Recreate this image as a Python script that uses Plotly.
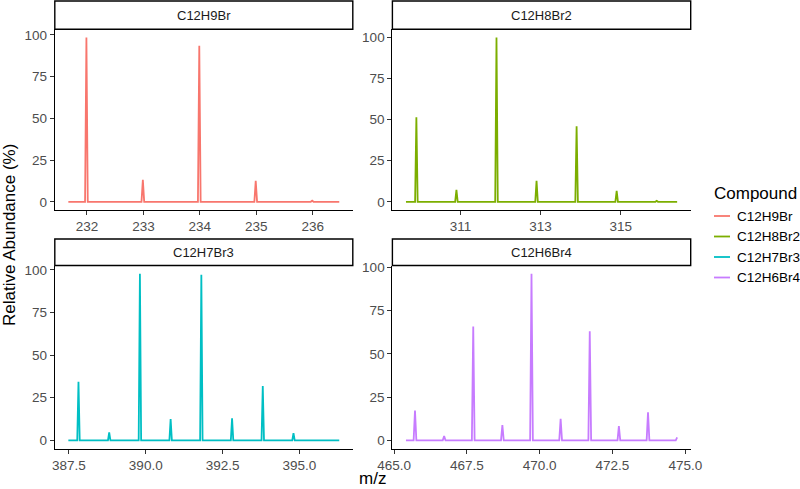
import plotly.graph_objects as go

# ---------------- data ----------------
compounds = ["C12H9Br", "C12H8Br2", "C12H7Br3", "C12H6Br4"]
colors = ["#F8766D", "#7CAE00", "#00BFC4", "#C77CFF"]

mz_start = [231.67, 309.64, 387.48, 465.41]
mz_end = [236.47, 316.41, 396.30, 474.72]

c12h9br_mz = [231.99, 232.99, 233.99, 234.99, 235.99]
c12h9br_ab = [98.4, 13.1, 93.4, 12.5, 0.7]

c12h8br2_mz = [309.90, 310.90, 311.90, 312.90, 313.90, 314.90, 315.90]
c12h8br2_ab = [51.4, 7.2, 100.0, 12.7, 46.0, 6.6, 0.6]

c12h7br3_mz = [387.81, 388.81, 389.81, 390.81, 391.81, 392.81, 393.81, 394.81, 395.81]
c12h7br3_ab = [34.4, 4.7, 97.7, 12.5, 97.1, 12.9, 31.9, 4.3, 0.4]

c12h6br4_mz = [465.72, 466.72, 467.72, 468.72, 469.72, 470.72, 471.72, 472.72, 473.72, 474.72]
c12h6br4_ab = [17.2, 2.5, 65.8, 8.9, 96.3, 12.5, 63.1, 8.3, 16.2, 1.7]

# peak half-width at the base (instrument resolution), per compound
peak_halfwidth = [0.024, 0.032, 0.040, 0.047]

x_tickvals = [
    [232, 233, 234, 235, 236],
    [311, 313, 315],
    [387.5, 390.0, 392.5, 395.0],
    [465.0, 467.5, 470.0, 472.5, 475.0],
]
x_ticktext = [
    ["232", "233", "234", "235", "236"],
    ["311", "313", "315"],
    ["387.5", "390.0", "392.5", "395.0"],
    ["465.0", "467.5", "470.0", "472.5", "475.0"],
]
y_tickvals = [0, 25, 50, 75, 100]

peak_mz = [c12h9br_mz, c12h8br2_mz, c12h7br3_mz, c12h6br4_mz]
peak_ab = [c12h9br_ab, c12h8br2_ab, c12h7br3_ab, c12h6br4_ab]


def profile(start, end, mzs, abund, hw):
    xs, ys = [start], [0.0]
    for m, a in zip(mzs, abund):
        for x, y in ((m - hw, 0.0), (m, a), (m + hw, 0.0)):
            if start < x <= end:
                xs.append(x)
                ys.append(y)
    if xs[-1] < end:
        xs.append(end)
        ys.append(0.0)
    return xs, ys


# ---------------- layout geometry (pixels -> paper) ----------------
W, H = 800, 489
col_x = [(54.8, 352.8), (392.4, 690.7)]
row_y = [(29.3, 210.0), (265.5, 448.7)]       # plot area top/bottom in px
strip_y = [(1.0, 29.3), (239.0, 265.5)]       # strip top/bottom in px


def px_x(x):
    return x / W


def px_y(y):
    return (H - y) / H


FONT = "Liberation Sans, Arial, Helvetica, sans-serif"
fig = go.Figure()
TICK_FONT = dict(family=FONT, size=13.5, color="#4D4D4D")
SMALL = 13.5
STRIP = 13
TITLE = 17

shapes = []
annotations = []

for i, name in enumerate(compounds):
    r, c = divmod(i, 2)
    xs, ys = profile(mz_start[i], mz_end[i], peak_mz[i], peak_ab[i], peak_halfwidth[i])
    ax = "" if i == 0 else str(i + 1)
    fig.add_trace(go.Scatter(
        x=xs, y=ys, mode="lines", name=name,
        line=dict(color=colors[i], width=1.8),
        xaxis="x" + ax, yaxis="y" + ax, showlegend=False,
        hoverinfo="x+y",
    ))
    span = mz_end[i] - mz_start[i]
    xr = [mz_start[i] - 0.05 * span, mz_end[i] + 0.05 * span]
    ymax = max(peak_ab[i])
    yr = [-0.05 * ymax, 1.05 * ymax]
    x0, x1 = col_x[c]
    yt, yb = row_y[r]
    fig.update_layout(**{
        "xaxis" + ax: dict(
            domain=[px_x(x0), px_x(x1)], anchor="y" + ax, range=xr,
            tickvals=x_tickvals[i], ticktext=x_ticktext[i],
            showline=True, linecolor="black", linewidth=1.1,
            ticks="outside", ticklen=4, tickwidth=1, tickcolor="#333333",
            showgrid=False, zeroline=False, tickfont=TICK_FONT,
            automargin=False,
        ),
        "yaxis" + ax: dict(
            domain=[px_y(yb), px_y(yt)], anchor="x" + ax, range=yr,
            tickvals=y_tickvals,
            showline=True, linecolor="black", linewidth=1.1,
            ticks="outside", ticklen=4, tickwidth=1, tickcolor="#333333",
            showgrid=False, zeroline=False, tickfont=TICK_FONT,
            automargin=False,
        ),
    })
    st, sb = strip_y[r]
    shapes.append(dict(
        type="rect", xref="paper", yref="paper",
        x0=px_x(x0), x1=px_x(x1), y0=px_y(sb), y1=px_y(st),
        line=dict(color="black", width=1.4), fillcolor="white", layer="above",
    ))
    annotations.append(dict(
        xref="paper", yref="paper", x=px_x((x0 + x1) / 2), y=px_y((st + sb) / 2),
        text=name, showarrow=False, xanchor="center", yanchor="middle",
        font=dict(family=FONT, size=STRIP, color="#1A1A1A"),
    ))

# axis titles
annotations.append(dict(
    xref="paper", yref="paper", x=px_x((col_x[0][0] + col_x[1][1]) / 2), y=px_y(478),
    text="m/z", showarrow=False, xanchor="center", yanchor="middle",
    font=dict(family=FONT, size=TITLE, color="black"),
))
annotations.append(dict(
    xref="paper", yref="paper", x=px_x(10), y=px_y(235),
    text="Relative Abundance (%)", showarrow=False, textangle=-90,
    xanchor="center", yanchor="middle",
    font=dict(family=FONT, size=TITLE, color="black"),
))

# legend (ggplot-style, drawn manually)
annotations.append(dict(
    xref="paper", yref="paper", x=px_x(712), y=px_y(193),
    text="Compound", showarrow=False, xanchor="left", yanchor="middle",
    font=dict(family=FONT, size=TITLE, color="black"),
))
legend_rows = [216, 236.5, 257, 277.5]
for i, name in enumerate(compounds):
    yy = legend_rows[i]
    shapes.append(dict(
        type="line", xref="paper", yref="paper",
        x0=px_x(714), x1=px_x(730), y0=px_y(yy), y1=px_y(yy),
        line=dict(color=colors[i], width=1.8),
    ))
    annotations.append(dict(
        xref="paper", yref="paper", x=px_x(735), y=px_y(yy),
        text=name, showarrow=False, xanchor="left", yanchor="middle",
        font=dict(family=FONT, size=SMALL, color="black"),
    ))

fig.update_layout(
    template="none",
    width=W, height=H, autosize=False,
    margin=dict(l=0, r=0, t=0, b=0, pad=0, autoexpand=False),
    paper_bgcolor="white", plot_bgcolor="white",
    font=dict(family=FONT),
    shapes=shapes, annotations=annotations,
    showlegend=False,
)

fig.write_html(
    "out.html",
    config={"displayModeBar": False},
    post_script="document.body.style.margin='0px';document.body.style.overflow='hidden';",
)
